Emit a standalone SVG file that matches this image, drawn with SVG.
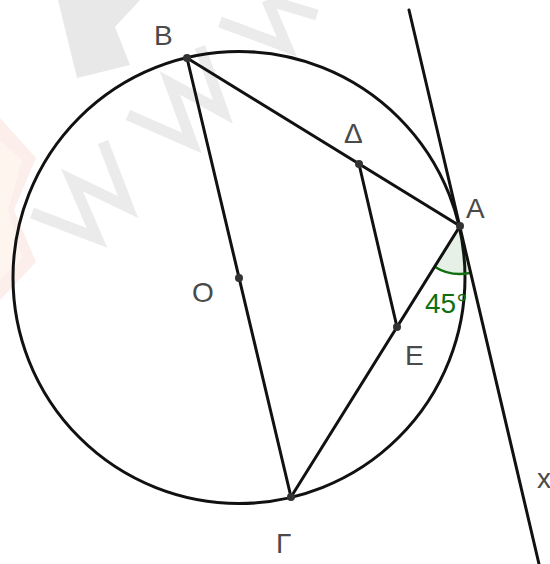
<svg xmlns="http://www.w3.org/2000/svg" width="550" height="564" viewBox="0 0 550 564">
  <style>
    .wm { fill: none; stroke: #ebebeb; stroke-width: 11; stroke-linejoin: miter; }
    .ln { fill: none; stroke: #111; stroke-width: 3; stroke-linecap: round; }
    .pt { fill: #333; }
    .lbl { font-family: "Liberation Sans", Arial, sans-serif; font-size: 28px; fill: #4a4a4a; }
    .ang { font-family: "Liberation Sans", Arial, sans-serif; font-size: 28px; fill: #107010; }
  </style>
  <rect width="550" height="564" fill="#ffffff"/>
  <g id="watermark">
    <polygon points="0,118 36,158 14,210 36,262 0,300" fill="#fcefeb"/>
    <polygon points="0,140 22,160 8,210 22,258 0,280" fill="#fef6ee"/>
    <polygon points="58,0 140,0 115,27 130,65 77,78" fill="#e8e8e8"/>
    <polyline class="wm" points="32,213 97,238 72,180 128,207 103,142"/>
    <polyline class="wm" points="128,115 192,143 170,83 223,112 200,47"/>
    <polyline class="wm" points="220,22 287,47 267,0"/>
    <polyline class="wm" points="267,0 317,15"/>
  </g>
  <g id="circle">
    <circle cx="239" cy="277.5" r="226" class="ln"/>
  </g>
  <g id="angle">
    <path d="M460,226 L434.6,266.7 A48,48 0 0,0 471,272.7 Z" fill="#107010" fill-opacity="0.1" stroke="none"/>
    <path d="M434.6,266.7 A48,48 0 0,0 471,272.7" fill="none" stroke="#107010" stroke-width="2.5"/>
    <text class="ang" x="425" y="313">45°</text>
  </g>
  <g id="connectors">
    <line class="ln" x1="409" y1="10" x2="539" y2="564"/>
    <line class="ln" x1="187" y1="58" x2="291" y2="497"/>
    <line class="ln" x1="187" y1="58" x2="460" y2="226"/>
    <line class="ln" x1="460" y1="226" x2="291" y2="497"/>
    <line class="ln" x1="359" y1="164" x2="397" y2="327"/>
  </g>
  <g id="B"><circle class="pt" cx="187" cy="58" r="4"/><text class="lbl" x="154" y="45">B</text></g>
  <g id="Delta"><circle class="pt" cx="359" cy="164" r="4"/><text class="lbl" x="344" y="143">Δ</text></g>
  <g id="A"><circle class="pt" cx="460" cy="226" r="4"/><text class="lbl" x="466" y="218">A</text></g>
  <g id="O"><circle class="pt" cx="239" cy="278" r="4"/><text class="lbl" x="192" y="302">O</text></g>
  <g id="E"><circle class="pt" cx="397" cy="327" r="4"/><text class="lbl" x="405" y="365">E</text></g>
  <g id="Gamma"><circle class="pt" cx="291" cy="497" r="4"/><text class="lbl" x="276" y="553">Γ</text></g>
  <g id="x"><text class="lbl" x="537" y="488">x</text></g>
</svg>
